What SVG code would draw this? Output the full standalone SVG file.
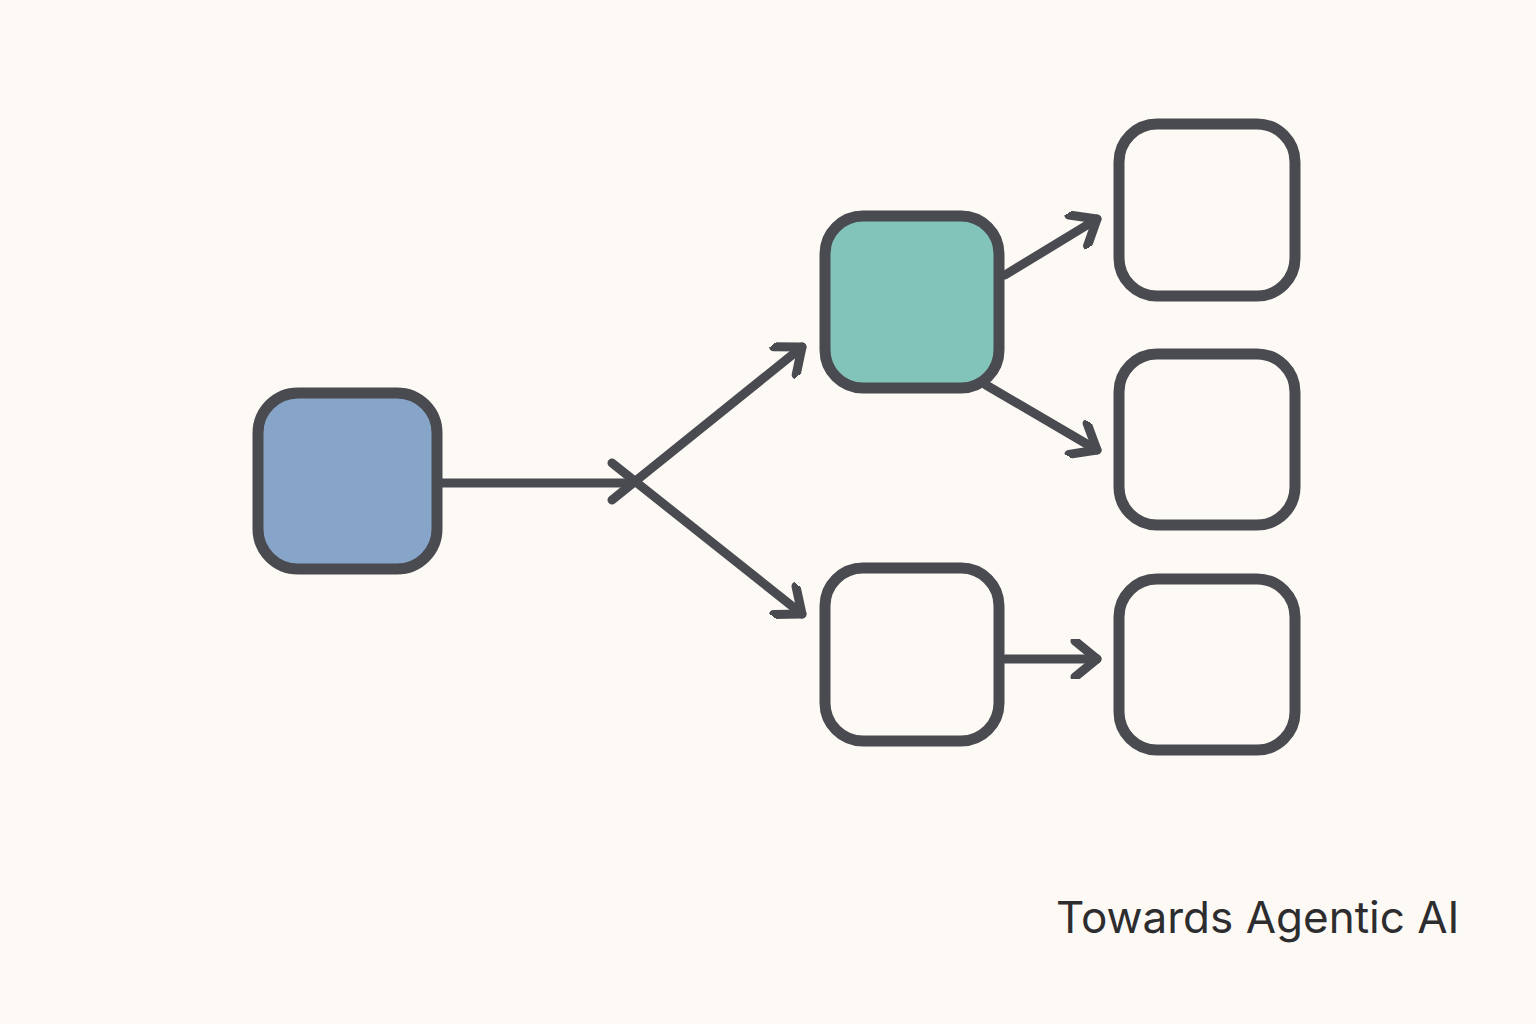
<svg xmlns="http://www.w3.org/2000/svg" width="1536" height="1024" viewBox="0 0 1536 1024">
<style>
.n{stroke:#4a4b50;stroke-width:11}
.c{stroke:#4a4b50;stroke-width:9;stroke-linecap:round;fill:none}
</style>
<defs>
<marker id="a" markerUnits="userSpaceOnUse" markerWidth="40" markerHeight="40" refX="30" refY="20" orient="auto" viewBox="0 0 40 40">
<path d="M8 2 L30 20 L8 38" fill="none" stroke="#4a4b50" stroke-width="9" stroke-linecap="round" stroke-linejoin="round"/>
</marker>
</defs>
<rect width="1536" height="1024" fill="#fdfaf5"/>
<g id="connectors">
<line class="c" x1="441" y1="483" x2="628" y2="483"/>
<line class="c" x1="612" y1="500" x2="802" y2="347" marker-end="url(#a)"/>
<line class="c" x1="612" y1="463" x2="802" y2="614" marker-end="url(#a)"/>
<line class="c" x1="1005" y1="275" x2="1097" y2="219" marker-end="url(#a)"/>
<line class="c" x1="986" y1="385" x2="1097" y2="450" marker-end="url(#a)"/>
<line class="c" x1="1005" y1="659" x2="1097" y2="659" marker-end="url(#a)"/>
</g>
<g id="n1"><rect class="n" x="258" y="393" width="179" height="176" rx="40" fill="#87a5c9"/></g>
<g id="n2"><rect class="n" x="825" y="216" width="174" height="172" rx="38" fill="#82c4b9"/></g>
<g id="n3"><rect class="n" x="825" y="568" width="174" height="173" rx="38" fill="none"/></g>
<g id="n4"><rect class="n" x="1119" y="124" width="176" height="172" rx="38" fill="none"/></g>
<g id="n5"><rect class="n" x="1119" y="354" width="176" height="171" rx="38" fill="none"/></g>
<g id="n6"><rect class="n" x="1119" y="579" width="176" height="171" rx="38" fill="none"/></g>
<text x="1056" y="933" font-family="Inter, 'Liberation Sans', sans-serif" font-size="44" fill="#2d2d30">Towards Agentic AI</text>
</svg>
